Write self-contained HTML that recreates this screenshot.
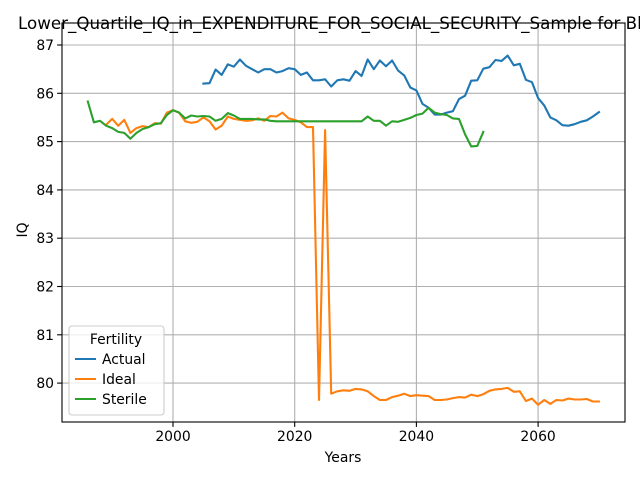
<!DOCTYPE html>
<html><head><meta charset="utf-8"><style>
body{margin:0;background:#fff;font-family:"Liberation Sans","DejaVu Sans",sans-serif;}
svg text{font-family:"DejaVu Sans","Liberation Sans",sans-serif;}
</style></head><body>
<svg id="chart" width="640" height="480" xmlns="http://www.w3.org/2000/svg">
<rect width="640" height="480" fill="#fff"/>
<g id="grid"></g><g id="series"></g><g id="axes"></g>
</svg>
<script>
const years = [];
for (let y = 1986; y <= 2070; y++) years.push(y);
const actualStart = 2005;
const actualValues = [86.2,86.21,86.49,86.38,86.6,86.55,86.7,86.57,86.5,86.43,86.5,86.5,86.43,86.46,86.52,86.5,86.38,86.43,86.27,86.27,86.29,86.14,86.27,86.29,86.26,86.46,86.36,86.7,86.5,86.68,86.56,86.68,86.47,86.37,86.12,86.06,85.78,85.7,85.56,85.56,85.6,85.63,85.88,85.95,86.26,86.27,86.51,86.54,86.69,86.67,86.78,86.58,86.61,86.28,86.23,85.9,85.75,85.5,85.44,85.34,85.33,85.36,85.41,85.44,85.52,85.61];
const idealStart = 1989;
const idealValues = [85.35,85.47,85.33,85.45,85.18,85.28,85.32,85.3,85.38,85.37,85.6,85.65,85.6,85.42,85.39,85.41,85.5,85.42,85.25,85.33,85.52,85.47,85.45,85.43,85.44,85.48,85.43,85.53,85.52,85.6,85.48,85.45,85.4,85.3,85.3,79.65,85.24,79.78,79.83,79.85,79.84,79.88,79.87,79.83,79.73,79.65,79.65,79.71,79.74,79.78,79.73,79.75,79.74,79.73,79.65,79.65,79.66,79.69,79.71,79.7,79.76,79.73,79.77,79.84,79.87,79.88,79.9,79.82,79.83,79.63,79.68,79.55,79.65,79.57,79.65,79.64,79.68,79.66,79.66,79.67,79.62,79.62];
const sterileStart = 1986;
const sterileValues = [85.83,85.4,85.43,85.33,85.28,85.2,85.18,85.06,85.18,85.26,85.3,85.36,85.38,85.55,85.65,85.6,85.48,85.54,85.52,85.53,85.52,85.43,85.47,85.59,85.54,85.47,85.47,85.47,85.46,85.46,85.43,85.42,85.42,85.42,85.42,85.42,85.42,85.42,85.42,85.42,85.42,85.42,85.42,85.42,85.42,85.42,85.52,85.43,85.43,85.33,85.42,85.41,85.45,85.49,85.55,85.58,85.7,85.6,85.57,85.55,85.48,85.47,85.15,84.9,84.91,85.2];
const xTicks = [2000,2020,2040,2060];
const yTicks = [80,81,82,83,84,85,86,87];

const L=62,R=625,T=23,B=422;
const X = y => 173 + (y-2000)*6.085;
const Y = v => 45 + (87-v)*48.3;
const NS="http://www.w3.org/2000/svg";
function mk(tag, attrs, parent, text){const e=document.createElementNS(NS,tag);for(const k in attrs)e.setAttribute(k,attrs[k]);if(text!==undefined)e.textContent=text;parent.appendChild(e);return e;}
const grid=document.getElementById('grid'), axes=document.getElementById('axes'), series=document.getElementById('series');
xTicks.forEach(t=>{
  const g=mk('line',{x1:X(t),x2:X(t),y1:T,y2:B,stroke:'#b0b0b0','stroke-width':1.1},grid);
  
  
  mk('line',{x1:X(t),x2:X(t),y1:B,y2:B+4.9,stroke:'#000','stroke-width':1.1},axes);
  const tx=mk('text',{x:X(t),y:B+19,'font-size':13.9,'text-anchor':'middle'},axes,t);
  
  
});
yTicks.forEach(t=>{
  const g=mk('line',{x1:L,x2:R,y1:Y(t),y2:Y(t),stroke:'#b0b0b0','stroke-width':1.1},grid);
  
  
  mk('line',{x1:L-4.9,x2:L,y1:Y(t),y2:Y(t),stroke:'#000','stroke-width':1.1},axes);
  const tx=mk('text',{x:L-8,y:Y(t)+5,'font-size':13.9,'text-anchor':'end'},axes,t);
  
  
});
function line(start, vals, color, name){
  const pts=vals.map((v,i)=>X(start+i).toFixed(1)+','+Y(v).toFixed(1)).join(' ');
  const p=mk('polyline',{points:pts,fill:'none',stroke:color,'stroke-width':2.1,'stroke-linejoin':'round','stroke-linecap':'square'},series);
  
  
}
line(actualStart,actualValues,'#1f77b4','actual-line');
line(idealStart,idealValues,'#ff7f0e','ideal-line');
line(sterileStart,sterileValues,'#2ca02c','sterile-line');
const frame=mk('rect',{x:L,y:T,width:R-L,height:B-T,fill:'none',stroke:'#000','stroke-width':1.1},axes);


const title=mk('text',{x:18,y:29,'font-size':16.7},axes,'Lower_Quartile_IQ_in_EXPENDITURE_FOR_SOCIAL_SECURITY_Sample for Black');


const xt=mk('text',{x:343,y:462,'font-size':13.9,'text-anchor':'middle'},axes,'Years');


const yt=mk('text',{x:27,y:230,'font-size':13.9,'text-anchor':'middle',transform:'rotate(-90 27 230)'},axes,'IQ');


const lg=mk('g',{},axes);


mk('rect',{x:69,y:326,width:95,height:89,rx:3,fill:'#fff','fill-opacity':0.8,stroke:'#ccc','stroke-width':1.1},lg);
mk('text',{x:116,y:344,'font-size':13.9,'text-anchor':'middle'},lg,'Fertility');
[['Actual','#1f77b4'],['Ideal','#ff7f0e'],['Sterile','#2ca02c']].forEach((d,i)=>{
  const yy=359+i*20;
  const en=mk('g',{},lg);
  
  
  mk('line',{x1:75,x2:96,y1:yy,y2:yy,stroke:d[1],'stroke-width':2.1},en);
  mk('text',{x:102,y:yy+5,'font-size':13.9},en,d[0]);
});
</script>
</body></html>
